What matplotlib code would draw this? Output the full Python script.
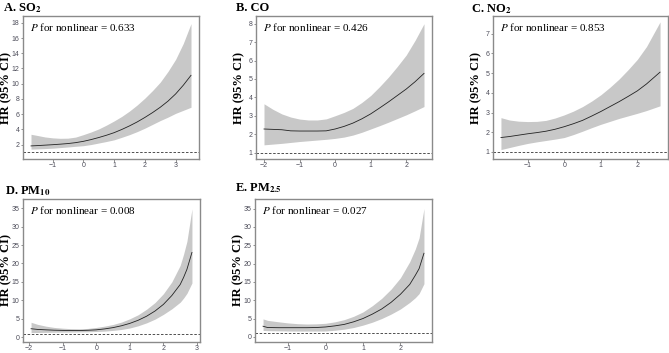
import numpy as np
import matplotlib
matplotlib.use("Agg")
import matplotlib.pyplot as plt

plt.rcParams['font.family'] = 'Liberation Serif'
plt.rcParams['mathtext.fontset'] = 'stix'

# ---- data ----
# A. SO2
so2_x = [-1.7, -1.5, -1.25, -1.0, -0.75, -0.5, -0.25, 0.0, 0.25, 0.5, 0.75,
         1.0, 1.25, 1.5, 1.75, 2.0, 2.25, 2.5, 2.75, 3.0, 3.25, 3.5]
so2_fit = [1.82, 1.86, 1.92, 1.98, 2.05, 2.13, 2.25, 2.42, 2.65, 2.92, 3.22,
           3.56, 3.98, 4.45, 4.97, 5.56, 6.2, 6.9, 7.7, 8.65, 9.8, 11.1]
so2_up = [3.35, 3.2, 3.0, 2.88, 2.82, 2.84, 2.98, 3.3, 3.65, 4.05, 4.55,
          5.1, 5.7, 6.4, 7.2, 8.1, 9.1, 10.2, 11.6, 13.2, 15.3, 17.9]
so2_lo = [1.4, 1.43, 1.47, 1.52, 1.6, 1.68, 1.77, 1.85, 2.0, 2.2, 2.4,
          2.62, 2.95, 3.3, 3.7, 4.15, 4.65, 5.15, 5.6, 6.1, 6.5, 6.9]

# B. CO
co_x = [-2.0, -1.75, -1.5, -1.25, -1.0, -0.75, -0.5, -0.25, 0.0, 0.25,
        0.5, 0.75, 1.0, 1.25, 1.5, 1.75, 2.0, 2.25, 2.5]
co_fit = [2.28, 2.26, 2.24, 2.18, 2.17, 2.17, 2.17, 2.18, 2.28, 2.42,
          2.6, 2.83, 3.1, 3.42, 3.75, 4.1, 4.45, 4.85, 5.3]
co_up = [3.65, 3.35, 3.1, 2.93, 2.82, 2.77, 2.77, 2.83, 3.0, 3.18,
         3.4, 3.72, 4.1, 4.58, 5.1, 5.68, 6.3, 7.1, 8.0]
co_lo = [1.42, 1.46, 1.5, 1.55, 1.6, 1.64, 1.68, 1.72, 1.77, 1.84,
         1.95, 2.1, 2.28, 2.46, 2.65, 2.85, 3.05, 3.27, 3.5]

# C. NO2
no2_x = [-1.73, -1.5, -1.25, -1.0, -0.75, -0.5, -0.25, 0.0, 0.25, 0.5,
         0.75, 1.0, 1.25, 1.5, 1.75, 2.0, 2.25, 2.62]
no2_fit = [1.73, 1.78, 1.85, 1.92, 1.98, 2.05, 2.15, 2.28, 2.43, 2.6,
           2.82, 3.05, 3.3, 3.55, 3.82, 4.1, 4.45, 5.05]
no2_up = [2.74, 2.62, 2.56, 2.54, 2.55, 2.6, 2.72, 2.88, 3.07, 3.3,
          3.58, 3.9, 4.28, 4.7, 5.18, 5.7, 6.35, 7.6]
no2_lo = [1.12, 1.22, 1.33, 1.43, 1.51, 1.58, 1.65, 1.73, 1.88, 2.05,
          2.23, 2.4, 2.55, 2.7, 2.83, 2.96, 3.1, 3.34]

# D. PM10
pm10_x = [-1.94, -1.75, -1.5, -1.25, -1.0, -0.75, -0.5, -0.25, 0.0, 0.25,
          0.5, 0.75, 1.0, 1.25, 1.5, 1.75, 2.0, 2.25, 2.5, 2.6, 2.7, 2.85]
pm10_fit = [2.3, 2.12, 2.0, 1.9, 1.85, 1.82, 1.82, 1.88, 2.0, 2.25,
            2.6, 3.1, 3.75, 4.6, 5.7, 7.1, 8.9, 11.3, 14.3, 16.2, 18.4, 23.0]
pm10_up = [4.05, 3.5, 3.0, 2.65, 2.45, 2.32, 2.28, 2.38, 2.65, 3.0,
           3.45, 4.1, 5.0, 6.1, 7.6, 9.4, 11.8, 15.0, 19.5, 22.5, 26.0, 34.8]
pm10_lo = [1.25, 1.28, 1.32, 1.35, 1.38, 1.4, 1.43, 1.47, 1.55, 1.65,
           1.85, 2.1, 2.5, 3.1, 3.9, 4.9, 6.2, 7.7, 9.5, 10.6, 11.9, 14.7]

# E. PM2.5
pm25_x = [-1.67, -1.55, -1.25, -1.0, -0.75, -0.5, -0.25, 0.0, 0.25, 0.5,
          0.75, 1.0, 1.25, 1.5, 1.75, 2.0, 2.25, 2.4, 2.5, 2.63]
pm25_fit = [2.9, 2.55, 2.5, 2.5, 2.5, 2.5, 2.55, 2.7, 3.0, 3.4,
            4.1, 5.0, 6.2, 7.6, 9.4, 11.6, 14.3, 16.8, 18.6, 22.8]
pm25_up = [4.9, 4.5, 4.1, 3.8, 3.6, 3.5, 3.55, 3.7, 4.1, 4.7,
           5.6, 6.8, 8.5, 10.5, 13.0, 16.1, 20.5, 24.0, 27.0, 35.0]
pm25_lo = [1.75, 1.7, 1.65, 1.6, 1.58, 1.58, 1.58, 1.6, 1.8, 2.1,
           2.55, 3.2, 4.0, 5.0, 6.2, 7.6, 9.4, 10.7, 11.8, 14.5]

titles = [r'A. SO$_{\mathbf{2}}$', 'B. CO', r'C. NO$_{\mathbf{2}}$',
          r'D. PM$_{\mathbf{10}}$', r'E. PM$_{\mathbf{2.5}}$']
p_values = ['0.633', '0.426', '0.853', '0.008', '0.027']
xticks = [[-1, 0, 1, 2, 3], [-2, -1, 0, 1, 2], [-1, 0, 1, 2],
          [-2, -1, 0, 1, 2, 3], [-1, 0, 1, 2]]
yticks = [range(2, 19, 2), range(1, 9), range(1, 8),
          range(0, 36, 5), range(0, 36, 5)]

panels = [(so2_x, so2_fit, so2_lo, so2_up),
          (co_x, co_fit, co_lo, co_up),
          (no2_x, no2_fit, no2_lo, no2_up),
          (pm10_x, pm10_fit, pm10_lo, pm10_up),
          (pm25_x, pm25_fit, pm25_lo, pm25_up)]

# layout (pixels: left, right, top, bottom) on a 669x353 canvas
W, H = 669, 353
boxes = [(23, 199, 16, 159), (256, 432, 16, 159), (493, 668, 16, 159),
         (23, 200, 199, 342), (255, 432, 199, 342)]
ylims = [(0.1, 18.9), (0.65, 8.42), (0.64, 7.9), (-1.3, 37.5), (-1.4, 37.6)]
ylab_x = [6, 239, 476, 6, 238]
title_pos = [(3, 11), (236, 11), (471, 12.5), (5, 194), (235, 191)]

fig = plt.figure(figsize=(W / 100, H / 100), dpi=100)

for i, (x, fit, lo, up) in enumerate(panels):
    l, r, t, b = boxes[i]
    ax = fig.add_axes([l / W, 1 - b / H, (r - l) / W, (b - t) / H])
    ax.fill_between(x, lo, up, color='#c8c8c8', lw=0)
    ax.plot(x, fit, color='#222222', lw=0.6)
    ax.axhline(1, color='#333333', lw=0.6, ls=(0, (3, 2)))
    ax.margins(x=0.05)
    ax.set_ylim(*ylims[i])
    ax.set_xticks(xticks[i])
    ax.set_yticks(list(yticks[i]))
    ax.tick_params(labelsize=5, colors='#7f7f7f', labelcolor='#4d4d5a',
                   length=1.8, width=0.6, pad=0.6)
    for lbl in ax.get_xticklabels() + ax.get_yticklabels():
        lbl.set_family('Liberation Sans')
    for s in ax.spines.values():
        s.set_color('#8a8a8a')
        s.set_linewidth(1.0)
    ax.text(0.04, 0.965, r'$\it{P}$ for nonlinear = ' + p_values[i],
            transform=ax.transAxes, ha='left', va='top', fontsize=8)
    fig.text(ylab_x[i] / W, 1 - ((t + b) / 2) / H, 'HR (95% CI)',
             rotation=90, ha='center', va='center', fontsize=9,
             fontweight='bold')
    tx, ty = title_pos[i]
    fig.text(tx / W, 1 - ty / H, titles[i], ha='left', va='baseline',
             fontsize=9, fontweight='bold')

fig.savefig('out.png', dpi=100)
